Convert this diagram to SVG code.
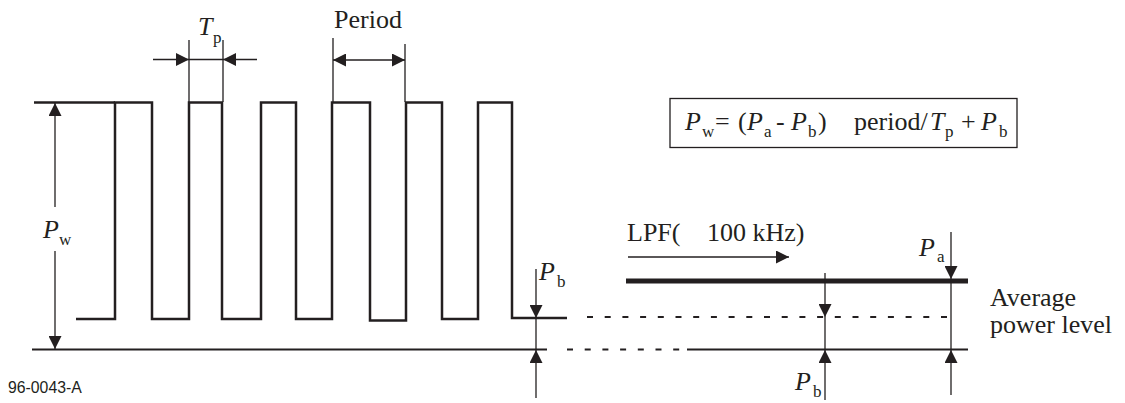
<svg xmlns="http://www.w3.org/2000/svg" width="1125" height="403" viewBox="0 0 1125 403">
<style>
.w{fill:none;stroke:#231f20;stroke-width:2.5;stroke-linejoin:miter}
.d{fill:none;stroke:#231f20;stroke-width:1.3}
.k{fill:none;stroke:#231f20;stroke-width:2}
.b{fill:none;stroke:#231f20;stroke-width:2}
.t{font-family:"Liberation Serif","Times New Roman",serif;font-size:26px;fill:#231f20}
.i{font-style:italic}
.s{font-size:17px}
.c{font-family:"Liberation Sans",Arial,sans-serif;font-size:15.8px;fill:#231f20}
</style>
<defs>
<marker id="ah" markerUnits="userSpaceOnUse" markerWidth="14" markerHeight="13" refX="13" refY="6.5" orient="auto">
<path d="M0,0 L13,6.5 L0,13 z" fill="#231f20"/>
</marker>
</defs>
<rect width="1125" height="403" fill="#fff"/>

<g id="waveform">
<path class="w" d="M34,102.5 H115"/>
<path class="w" d="M76,319 H115 V102.5 H152 V319 H189 V102.5 H222 V319 H261 V102.5 H296 V319 H332 V102.5 H370 V320.5 H406 V102.5 H442 V319 H478 V102.5 H512 V318 H567"/>
<path class="b" d="M32,349.5 H547"/>
</g>

<g id="filtered">
<path d="M626,281 H968" fill="none" stroke="#231f20" stroke-width="5"/>
<path class="k" d="M587,317 H958" stroke-dasharray="6 11.7"/>
<path class="k" d="M567,349.5 H687" stroke-dasharray="6 11.7"/>
<path class="b" d="M687,349.5 H968"/>
</g>

<g id="connectors">
<path class="d" d="M55,207 V103" stroke-width="1.8" marker-end="url(#ah)"/>
<path class="d" d="M55,251 V349" stroke-width="1.8" marker-end="url(#ah)"/>
<path class="d" d="M189,40 V102 M223,40 V102 M189,59.5 H223"/>
<path class="d" d="M153,59.5 H189" marker-end="url(#ah)"/>
<path class="d" d="M257,59.5 H223" marker-end="url(#ah)"/>
<path class="d" d="M333,38 V102 M405,44 V102"/>
<path class="d" d="M369,60 H333" marker-end="url(#ah)"/>
<path class="d" d="M369,60 H405" marker-end="url(#ah)"/>
<path class="d" d="M536,269 V318" marker-end="url(#ah)"/>
<path class="d" d="M536,318 V350"/>
<path class="d" d="M536,398 V350" marker-end="url(#ah)"/>
<path class="d" d="M628,257 H789" marker-end="url(#ah)"/>
<path class="d" d="M825,273 V317" marker-end="url(#ah)"/>
<path class="d" d="M825,317 V349"/>
<path class="d" d="M825,400 V350" marker-end="url(#ah)"/>
<path class="d" d="M951,232 V279" marker-end="url(#ah)"/>
<path class="d" d="M951,279 V349"/>
<path class="d" d="M951,395 V350" marker-end="url(#ah)"/>
</g>

<g id="formula">
<rect x="670" y="98.5" width="347" height="49" fill="none" stroke="#231f20" stroke-width="1.3"/>
<text class="t" y="130"><tspan x="685" class="i">P</tspan><tspan x="702" y="137" class="s">w</tspan><tspan x="715" y="130">=</tspan><tspan x="738">(</tspan><tspan x="747" class="i">P</tspan><tspan x="764" y="137" class="s">a</tspan><tspan x="776" y="130">-</tspan><tspan x="791" class="i">P</tspan><tspan x="808" y="137" class="s">b</tspan><tspan x="818" y="130">)</tspan><tspan x="854">period/</tspan><tspan x="930" class="i">T</tspan><tspan x="945" y="137" class="s">p</tspan><tspan x="961" y="130">+</tspan><tspan x="981" class="i">P</tspan><tspan x="999" y="137" class="s">b</tspan></text>
</g>

<g id="labels">
<text class="t" y="35"><tspan x="198" class="i">T</tspan><tspan x="213" y="43" class="s">p</tspan></text>
<text class="t" x="334" y="28">Period</text>
<text class="t" y="238"><tspan x="43" class="i">P</tspan><tspan x="59" y="245" class="s">w</tspan></text>
<text class="t" y="280"><tspan x="539" class="i">P</tspan><tspan x="557" y="287" class="s">b</tspan></text>
<text class="t" y="241"><tspan x="627">LPF(</tspan><tspan x="707">100 kHz)</tspan></text>
<text class="t" y="256"><tspan x="919" class="i">P</tspan><tspan x="937" y="262" class="s">a</tspan></text>
<text class="t" x="990" y="306">Average</text>
<text class="t" x="990" y="333">power level</text>
<text class="t" y="390"><tspan x="795" class="i">P</tspan><tspan x="813" y="397" class="s">b</tspan></text>
<text class="c" x="8" y="393">96-0043-A</text>
</g>
</svg>
